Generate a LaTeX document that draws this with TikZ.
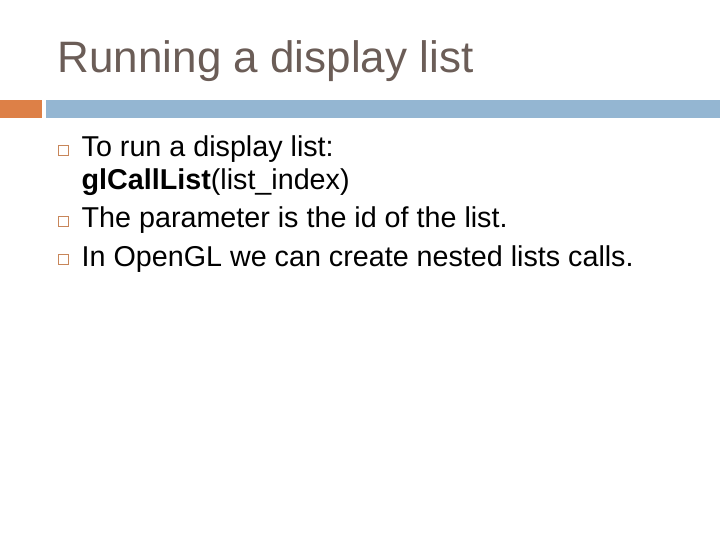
\documentclass[tikz,border=0pt]{standalone}
\usepackage{fontspec}
\setmainfont{Liberation Sans}
\usepackage{xcolor}
\usetikzlibrary{positioning}
\definecolor{titlegray}{HTML}{6B5D57}
\definecolor{barorange}{HTML}{DD8047}
\definecolor{barblue}{HTML}{94B6D2}
\definecolor{bulletbrown}{HTML}{C8865A}

\begin{document}
\begin{tikzpicture}[x=1pt, y=-1pt, line/.style={anchor=base west, inner sep=0pt, font=\fontsize{28.7}{33}\selectfont}, bullet/.style={draw=bulletbrown, line width=1.3pt, minimum size=9.5pt, inner sep=0pt, anchor=center}]
	\useasboundingbox (0,0) rectangle (720,540);
	\fill[barorange] (0,100) rectangle (42,118);
	\fill[barblue] (46,100) rectangle (720,118);
	\node[anchor=base west, inner sep=0pt, text=titlegray, font=\fontsize{44}{48}\selectfont] (title) at (57.5,73) {Running a display list};
	\node[line] (l1) at (81.5,157) {To run a display list:};
	\node[line] (l2) at (81.5,189.5) {\textbf{glCallList}(list\_index)};
	\node[line] (l3) at (81.5,228) {The parameter is the id of the list.};
	\node[line] (l4) at (81.5,266) {In OpenGL we can create nested lists calls.};
	\node[bullet] (b1) at (63.5,150.5) {};
	\node[bullet] (b3) at (63.5,221.5) {};
	\node[bullet] (b4) at (63.5,259.5) {};
\end{tikzpicture}
\end{document}
